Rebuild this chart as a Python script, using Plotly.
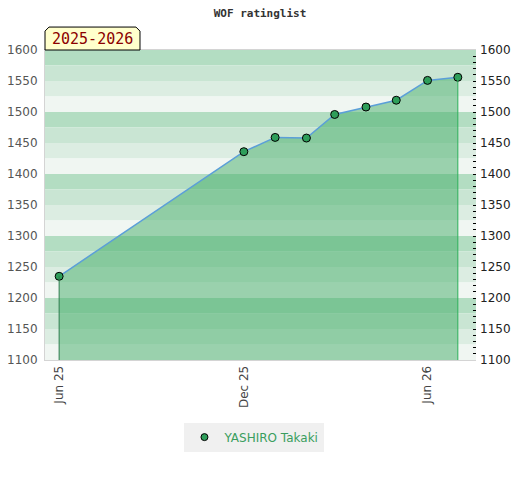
import plotly.graph_objects as go

# WOF rating list, monthly entries
dates = ["2025-06-01", "2025-12-01", "2026-01-01", "2026-02-01", "2026-03-01",
         "2026-04-01", "2026-05-01", "2026-06-01", "2026-07-01"]
ratings = [1235, 1436, 1459, 1458, 1496, 1508, 1519, 1551, 1556]
player = "YASHIRO Takaki"
season = "2025-2026"

tick_dates = ["2025-06-01", "2025-12-01", "2026-06-01"]
tick_labels = ["Jun 25", "Dec 25", "Jun 26"]

y_min, y_max = 1100, 1600
x_range = ["2025-05-18", "2026-07-19"]

fig = go.Figure()

# striped background: each 100 block split in 4 bands, darkest on top
band_colors = ["#b3ddc2", "#c9e5d3", "#dcede2", "#f0f6f2"]
for top in range(y_max, y_min, -100):
    for i, c in enumerate(band_colors):
        fig.add_shape(type="rect", xref="paper", yref="y", x0=0, x1=1,
                      y0=top - 25 * (i + 1), y1=top - 25 * i,
                      fillcolor=c, line_width=0, layer="below")

fig.add_trace(go.Scatter(
    x=dates, y=ratings, name=player, showlegend=False,
    mode="lines+markers", fill="tozeroy",
    fillcolor="rgba(66,172,102,0.49)",
    line=dict(color="#5b9fd8", width=1.5),
    marker=dict(size=8, color="#2e9e5a", line=dict(color="black", width=1)),
))
# legend entry shows just the marker
fig.add_trace(go.Scatter(
    x=[None], y=[None], name=player, mode="markers",
    marker=dict(size=7, color="#2e9e5a", line=dict(color="black", width=1)),
))
# same data on the right axis so it gets drawn
fig.add_trace(go.Scatter(
    x=dates, y=ratings, yaxis="y2", mode="lines", opacity=0,
    showlegend=False, hoverinfo="skip",
))

# vertical drop lines at first and last entries
fig.add_shape(type="line", xref="x", yref="y", x0=dates[0], x1=dates[0],
              y0=y_min, y1=ratings[0], line=dict(color="#2e7d4f", width=1))
fig.add_shape(type="line", xref="x", yref="y", x0=dates[-1], x1=dates[-1],
              y0=y_min, y1=ratings[-1], line=dict(color="#2eb05a", width=1))

# season label tab
fig.add_shape(type="path", xref="paper", yref="paper",
              path="M 0,1 L 0,1.061 L 0.0093,1.074 L 0.2111,1.074 L 0.2204,1.061 L 0.2204,1 Z",
              fillcolor="#ffffcc", line=dict(color="black", width=1), layer="above")
fig.add_annotation(text=season, xref="paper", yref="paper", x=0.11, y=1.037,
                   showarrow=False, xanchor="center", yanchor="middle",
                   font=dict(family="DejaVu Sans Mono", size=15, color="#8b0000"))

fig.update_layout(
    width=520, height=480,
    margin=dict(l=45, r=44, t=50, b=120, autoexpand=False),
    paper_bgcolor="white", plot_bgcolor="white",
    title=dict(text="<b>WOF ratinglist</b>", x=0.5, xanchor="center",
               y=0.973, yanchor="middle",
               font=dict(family="DejaVu Sans Mono", size=11, color="#333")),
    font=dict(family="DejaVu Sans", size=11, color="#444"),
    showlegend=True,
    legend=dict(orientation="h", x=0.486, xanchor="center", y=-0.202, yanchor="top",
                bgcolor="#f0f0f0", font=dict(color="#3a9e5e", size=12)),
    xaxis=dict(type="date", range=x_range, tickvals=tick_dates, ticktext=tick_labels,
               tickangle=-90, showgrid=False, zeroline=False, automargin=False,
               showline=True, linecolor="#d4d4d4", linewidth=1, mirror=True,
               ticks="", tickfont=dict(size=12)),
    yaxis=dict(range=[y_min, y_max], dtick=50, showgrid=False, zeroline=False,
               showline=True, linecolor="#d4d4d4", linewidth=1, automargin=False,
               minor=dict(dtick=100, showgrid=True, gridcolor="#d4d4d4"),
               tickfont=dict(color="#555", size=12), ticks="", ticklabelstandoff=4),
    yaxis2=dict(range=[y_min, y_max], dtick=50, overlaying="y", side="right",
                showgrid=False, zeroline=False, ticks="inside", ticklen=3,
                automargin=False, ticklabelstandoff=3,
                tickcolor="black", tickfont=dict(color="#222", size=12),
                minor=dict(dtick=10, ticks="inside", ticklen=3, tickcolor="black")),
)

# page body margin would shift the chart, so drop it
fig.write_html("out.html", config={"displayModeBar": False},
               post_script="document.body.style.margin='0';")
